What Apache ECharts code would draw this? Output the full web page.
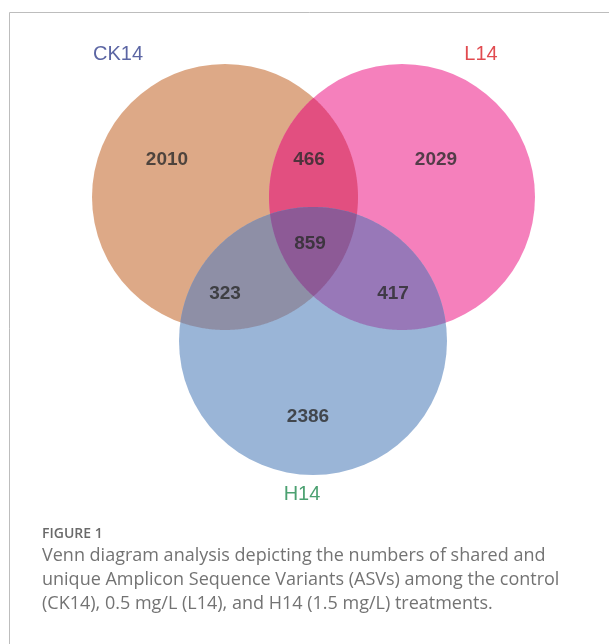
<!DOCTYPE html>
<html>
<head>
<meta charset="utf-8">
<style>
  html, body { margin: 0; padding: 0; background: #ffffff; }
  #chart { width: 609px; height: 644px; }
</style>
<script src="https://cdn.jsdelivr.net/npm/echarts@6/dist/echarts.min.js"></script>
</head>
<body>
<div id="chart"></div>
<script>
// ---- data ----
const setNames = ['CK14', 'L14', 'H14'];
const regionNames = ['CK14 only', 'L14 only', 'H14 only', 'CK14∩L14', 'CK14∩H14', 'L14∩H14', 'CK14∩L14∩H14'];
const regionSets = [[0], [1], [2], [0, 1], [0, 2], [1, 2], [0, 1, 2]];
const regionCounts = [2010, 2029, 2386, 466, 323, 417, 859];
const captionTitle = 'FIGURE 1';
const captionLines = [
  'Venn diagram analysis depicting the numbers of shared and',
  'unique Amplicon Sequence Variants (ASVs) among the control',
  '(CK14), 0.5 mg/L (L14), and H14 (1.5 mg/L) treatments.'
];

// ---- layout & style (not data) ----
const layout = {
  centers: [[225, 197], [402, 197], [313, 341]],
  radii: [133, 133, 134],
  labelPos: [[167, 160], [436, 160], [308, 417], [309, 160], [225, 294], [393, 294], [310, 244]],
  setLabelPos: [[118, 54], [481, 54], [302, 494]]
};
const style = {
  regionColors: ['#DDA987', '#F580BC', '#9AB5D7', '#E24F80', '#8E8FA6', '#9878B8', '#8D5A96'],
  setColors: ['#323F8C', '#D91E24', '#1F8A4E']
};

function intersectionPolygon(ds) {
  const pts = [];
  const N = 720;
  const inside = (p, skip) => ds.every((e, j) => skip.indexOf(j) >= 0 || Math.hypot(p[0] - e.x, p[1] - e.y) <= e.r + 1e-6);
  ds.forEach((d, i) => {
    for (let k = 0; k < N; k++) {
      const a = 2 * Math.PI * k / N;
      const p = [d.x + d.r * Math.cos(a), d.y + d.r * Math.sin(a)];
      if (inside(p, [i])) pts.push(p);
    }
  });
  for (let i = 0; i < ds.length; i++) {
    for (let j = i + 1; j < ds.length; j++) {
      const a = ds[i], b = ds[j];
      const dx = b.x - a.x, dy = b.y - a.y, d = Math.hypot(dx, dy);
      const l = (a.r * a.r - b.r * b.r + d * d) / (2 * d);
      const h = Math.sqrt(Math.max(0, a.r * a.r - l * l));
      const mx = a.x + l * dx / d, my = a.y + l * dy / d;
      const cand = [[mx + h * dy / d, my - h * dx / d], [mx - h * dy / d, my + h * dx / d]];
      cand.forEach(p => { if (inside(p, [i, j])) pts.push(p); });
    }
  }
  let cx = 0, cy = 0;
  pts.forEach(p => { cx += p[0]; cy += p[1]; });
  cx /= pts.length; cy /= pts.length;
  pts.sort((p, q) => Math.atan2(p[1] - cy, p[0] - cx) - Math.atan2(q[1] - cy, q[0] - cx));
  return pts;
}

const chart = echarts.init(document.getElementById('chart'), null, { renderer: 'canvas' });

const option = {
  backgroundColor: '#ffffff',
  animation: false,
  grid: { left: 0, right: 0, top: 0, bottom: 0 },
  xAxis: { type: 'value', min: 0, max: 609, show: false },
  yAxis: { type: 'value', min: 0, max: 644, inverse: true, show: false },
  graphic: [
    { type: 'rect', shape: { x: 9.5, y: 12.5, width: 800, height: 800 },
      style: { fill: 'none', stroke: '#bdbdbd', lineWidth: 1 }, silent: true, z: 0 },
    { type: 'text', left: 42, top: 527,
      style: { text: captionTitle, fill: '#6a6a6a', font: '600 14px "Open Sans"' } }
  ].concat(captionLines.map((t, i) => ({
    type: 'text', left: 42, top: 547 + i * 24,
    style: { text: t, fill: '#737373', font: '18px "Open Sans"' }
  }))),
  series: [
    {
      type: 'custom',
      coordinateSystem: 'cartesian2d',
      silent: true,
      data: regionNames.map((n, i) => ({ name: n, value: [i, regionCounts[i]] })),
      renderItem: function (params, api) {
        const idx = params.dataIndex;
        const sets = regionSets[idx];
        const ds = sets.map(s => {
          const c = api.coord(layout.centers[s]);
          const r = api.size([layout.radii[s], 0])[0];
          return { x: c[0], y: c[1], r: r };
        });
        if (ds.length === 1) {
          return { type: 'circle', shape: { cx: ds[0].x, cy: ds[0].y, r: ds[0].r },
                   style: { fill: style.regionColors[idx] } };
        }
        return { type: 'polygon', shape: { points: intersectionPolygon(ds) },
                 style: { fill: style.regionColors[idx] } };
      },
      z: 2
    },
    {
      type: 'scatter',
      symbolSize: 1,
      itemStyle: { color: 'rgba(0,0,0,0)' },
      silent: true,
      data: regionCounts.map((v, i) => ({ name: regionNames[i], value: [layout.labelPos[i][0], layout.labelPos[i][1], v] })),
      label: {
        show: true, position: 'inside',
        formatter: p => String(p.value[2]),
        color: '#2b2b2b', fontFamily: '"Liberation Sans", Arial, sans-serif',
        fontWeight: 'bold', fontSize: 19
      },
      z: 5
    },
    {
      type: 'scatter',
      symbolSize: 1,
      itemStyle: { color: 'rgba(0,0,0,0)' },
      silent: true,
      data: setNames.map((n, i) => ({
        name: n, value: [layout.setLabelPos[i][0], layout.setLabelPos[i][1]],
        label: { color: style.setColors[i] }
      })),
      label: {
        show: true, position: 'inside',
        formatter: p => p.name,
        fontFamily: '"Liberation Sans", Arial, sans-serif',
        fontSize: 20
      },
      z: 5
    }
  ]
};
chart.setOption(option);
</script>
</body>
</html>
